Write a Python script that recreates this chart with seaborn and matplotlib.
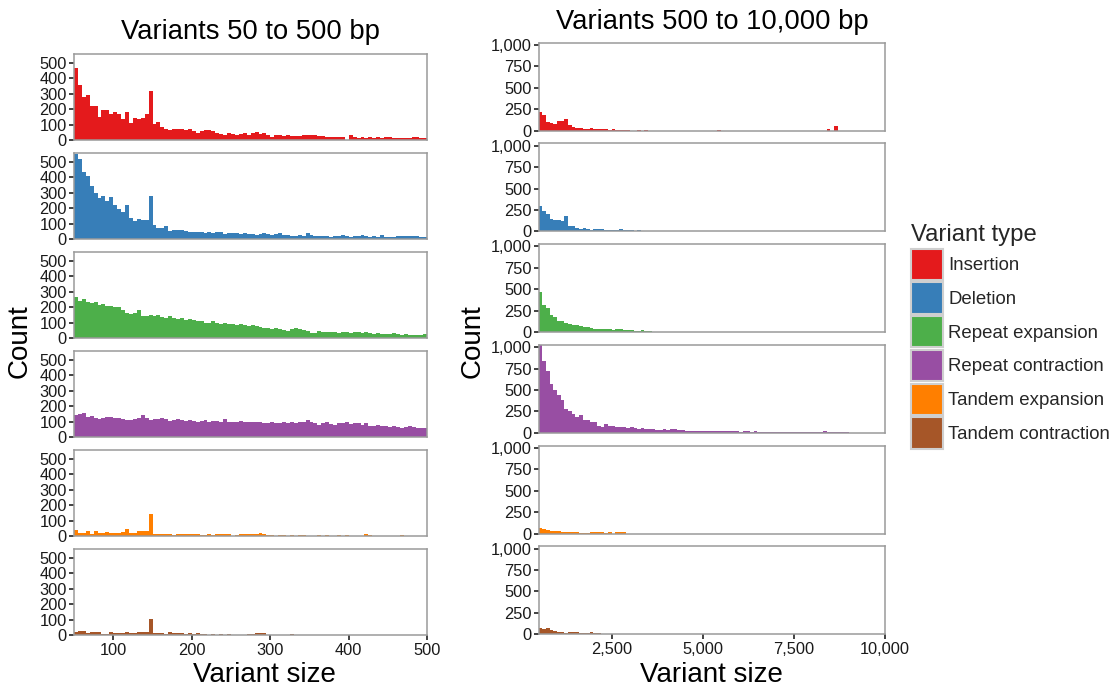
import numpy as np
import pandas as pd
import matplotlib
matplotlib.use("Agg")
import matplotlib.pyplot as plt
import seaborn as sns
from matplotlib.patches import Patch
from matplotlib.ticker import FuncFormatter

# ---------------- data ----------------
variant_types = ["Insertion", "Deletion", "Repeat expansion",
                 "Repeat contraction", "Tandem expansion", "Tandem contraction"]
type_colors = ["#E41A1C", "#377EB8", "#4DAF4A", "#984EA3", "#FF7F00", "#A65628"]

# small variants: 5 bp bins starting at 50 bp
small_bin_start, small_bin_width = 50, 5
# large variants: 100 bp bins starting at 500 bp
large_bin_start, large_bin_width = 500, 100

small_insertion = [
    468, 355, 281, 294, 223, 219, 149, 196, 194, 170,
    181, 166, 138, 181, 113, 145, 134, 140, 166, 319,
    102, 117, 81, 68, 64, 68, 70, 68, 65, 72,
    55, 45, 55, 65, 62, 58, 45, 40, 32, 45,
    42, 35, 38, 45, 35, 45, 52, 42, 48, 30,
    22, 30, 35, 28, 30, 27, 25, 28, 30, 30,
    32, 30, 25, 28, 18, 22, 18, 20, 17, 0,
    32, 22, 15, 18, 14, 20, 15, 18, 12, 20,
    18, 15, 12, 14, 15, 15, 20, 22, 15, 12]
small_deletion = [
    551, 515, 434, 408, 340, 298, 266, 281, 243, 270,
    217, 191, 174, 221, 136, 115, 128, 121, 125, 277,
    89, 74, 74, 85, 53, 60, 57, 55, 50, 45,
    48, 48, 45, 42, 45, 42, 45, 48, 35, 38,
    40, 36, 32, 40, 35, 32, 28, 30, 42, 35,
    25, 30, 42, 28, 25, 22, 20, 25, 20, 42,
    25, 22, 18, 20, 18, 15, 20, 22, 25, 20,
    15, 18, 22, 25, 20, 12, 18, 15, 28, 15,
    12, 15, 18, 20, 18, 22, 18, 20, 15, 10]
small_repeat_exp = [
    268, 240, 252, 232, 228, 235, 215, 220, 205, 210,
    198, 200, 178, 160, 155, 162, 182, 145, 140, 150,
    140, 148, 135, 132, 140, 128, 125, 128, 118, 120,
    115, 110, 112, 100, 98, 110, 95, 92, 98, 90,
    92, 85, 88, 82, 80, 85, 75, 72, 65, 62,
    60, 62, 55, 52, 48, 55, 62, 58, 50, 45,
    30, 35, 45, 38, 40, 36, 40, 35, 38, 42,
    35, 38, 40, 32, 42, 30, 28, 30, 25, 28,
    26, 30, 25, 22, 24, 20, 22, 20, 18, 25]
small_repeat_con = [
    142, 147, 153, 132, 138, 126, 117, 126, 132, 132,
    126, 121, 117, 112, 110, 118, 122, 142, 120, 111,
    115, 118, 126, 115, 104, 110, 115, 108, 104, 110,
    106, 100, 104, 108, 100, 102, 106, 100, 115, 98,
    100, 96, 102, 98, 100, 96, 94, 100, 92, 90,
    98, 92, 88, 95, 90, 94, 92, 98, 96, 113,
    95, 90, 80, 92, 100, 85, 75, 90, 88, 94,
    85, 90, 88, 80, 92, 70, 72, 75, 74, 68,
    65, 70, 62, 60, 65, 68, 62, 60, 58, 56]
small_tandem_exp = [
    40, 19, 20, 34, 15, 30, 20, 22, 25, 20,
    20, 22, 28, 45, 20, 22, 30, 34, 34, 143,
    13, 12, 15, 10, 10, 8, 12, 12, 12, 12,
    12, 12, 8, 5, 15, 6, 10, 12, 12, 10,
    3, 8, 10, 10, 10, 12, 15, 22, 14, 5,
    4, 3, 6, 6, 3, 5, 2, 6, 6, 2,
    3, 2, 5, 2, 5, 2, 3, 5, 2, 4,
    2, 2, 2, 2, 10, 5, 2, 2, 1, 2,
    2, 1, 2, 6, 2, 1, 2, 2, 1, 1]
small_tandem_con = [
    19, 28, 28, 13, 21, 21, 17, 8, 8, 17,
    14, 14, 14, 21, 10, 12, 18, 21, 21, 104,
    13, 13, 10, 8, 19, 10, 10, 12, 5, 13,
    5, 13, 8, 6, 3, 6, 3, 6, 2, 4,
    3, 2, 3, 2, 5, 4, 13, 12, 10, 3,
    2, 1, 2, 1, 2, 5, 1, 1, 2, 1,
    1, 2, 1, 1, 1, 1, 2, 1, 1, 1,
    0, 1, 0, 1, 2, 0, 1, 0, 1, 0,
    1, 0, 0, 1, 0, 0, 1, 0, 0, 0]

large_insertion = [
    220, 185, 96, 85, 77, 115, 108, 139, 62, 38,
    31, 31, 23, 15, 31, 23, 15, 15, 15, 10,
    15, 8, 5, 6, 6, 0, 0, 6, 0, 6,
    0, 0, 0, 0, 0, 0, 0, 0, 0, 0,
    0, 0, 0, 0, 0, 0, 0, 0, 0, 8,
    0, 0, 0, 0, 0, 0, 0, 0, 0, 0,
    0, 0, 0, 0, 0, 0, 0, 0, 0, 0,
    0, 0, 0, 0, 0, 0, 0, 0, 0, 20,
    0, 60]
large_deletion = [
    296, 233, 206, 140, 128, 136, 117, 179, 62, 58,
    43, 23, 39, 23, 16, 31, 31, 23, 16, 16,
    16, 20, 27, 16, 12, 12, 8, 12, 8, 10]
large_repeat_exp = [
    463, 317, 286, 197, 174, 131, 131, 104, 97, 85,
    85, 77, 58, 58, 50, 42, 42, 31, 31, 42,
    27, 31, 31, 23, 23, 23, 15, 15, 27, 8,
    8, 5, 5]
large_repeat_con = [
    1030, 833, 717, 570, 504, 438, 388, 283, 252, 221,
    182, 205, 155, 155, 128, 128, 78, 66, 105, 85,
    78, 66, 66, 62, 58, 62, 55, 50, 52, 47,
    45, 39, 35, 31, 43, 35, 39, 40, 27, 27,
    20, 18, 16, 23, 23, 23, 23, 25, 22, 20,
    25, 18, 20, 22, 18, 15, 20, 18, 15, 16,
    15, 12, 14, 15, 12, 10, 12, 14, 10, 12,
    10, 12, 10, 8, 10, 12, 8, 10, 25, 12,
    8, 10, 6, 8, 4]
large_tandem_exp = [
    66, 47, 43, 35, 27, 27, 12, 12, 12, 12,
    19, 8, 8, 3, 12, 12, 19, 12, 5, 12,
    0, 12, 12, 12]
large_tandem_con = [
    70, 55, 67, 51, 43, 23, 23, 16, 31, 23,
    31, 16, 12, 12, 31, 12, 12, 5]

small_counts = [small_insertion, small_deletion, small_repeat_exp,
                small_repeat_con, small_tandem_exp, small_tandem_con]
large_counts = [large_insertion, large_deletion, large_repeat_exp,
                large_repeat_con, large_tandem_exp, large_tandem_con]

small_xticks = [100, 200, 300, 400, 500]
small_yticks = [0, 100, 200, 300, 400, 500]
large_xticks = [2500, 5000, 7500, 10000]
large_yticks = [0, 250, 500, 750, 1000]


def to_frame(counts_list, start, width):
    rows = []
    for vt, counts in zip(variant_types, counts_list):
        for i, c in enumerate(counts):
            rows.append((vt, start + width * (i + 0.5), c))
    return pd.DataFrame(rows, columns=["type", "size", "count"])


small_df = to_frame(small_counts, small_bin_start, small_bin_width)
large_df = to_frame(large_counts, large_bin_start, large_bin_width)

# ---------------- style ----------------
sns.set_theme(style="white")
plt.rcParams["font.family"] = ["Liberation Sans", "DejaVu Sans"]

W, H = 1118, 692
fig = plt.figure(figsize=(W / 100, H / 100), dpi=100)


def px_axes(x0, x1, top, bottom):
    return fig.add_axes([x0 / W, 1 - bottom / H, (x1 - x0) / W, (bottom - top) / H])


left_tops = [54, 153, 252, 351, 450, 549]
right_tops = [42.7, 143.4, 244.1, 344.8, 445.5, 546.2]
left_h, right_h = 86, 88

text_color = "#1a1a1a"
spine_color = "#9a9a9a"
comma = FuncFormatter(lambda v, p: f"{int(v):,}")
tick_size = 11.8

for col, (df, tops, ph, x0, x1, xlim, ylim, xticks, yticks, bw) in enumerate([
        (small_df, left_tops, left_h, 74, 427.3, (50, 500), (0, 556),
         small_xticks, small_yticks, small_bin_width),
        (large_df, right_tops, right_h, 538.8, 885, (500, 10000), (0, 1027),
         large_xticks, large_yticks, large_bin_width)]):
    for r, (vt, colr) in enumerate(zip(variant_types, type_colors)):
        ax = px_axes(x0, x1, tops[r], tops[r] + ph)
        sub = df[df["type"] == vt]
        sns.histplot(data=sub, x="size", weights="count",
                     binwidth=bw, binrange=xlim, color=colr, alpha=1,
                     element="bars", linewidth=0, edgecolor=colr, ax=ax)
        ax.set_xlim(*xlim)
        ax.set_ylim(*ylim)
        ax.set_xlabel("")
        ax.set_ylabel("")
        ax.set_yticks(yticks)
        ax.yaxis.set_major_formatter(comma)
        for s in ax.spines.values():
            s.set_color(spine_color)
            s.set_linewidth(1.1)
        ax.tick_params(axis="y", direction="out", length=3.8, width=1.3,
                       color="#333333", labelsize=tick_size, labelcolor=text_color,
                       pad=1.5, left=True)
        if r == 5:
            ax.set_xticks(xticks)
            ax.xaxis.set_major_formatter(comma)
            ax.tick_params(axis="x", direction="out", length=3.8, width=1.3,
                           color="#333333", labelsize=tick_size, labelcolor=text_color,
                           pad=2, bottom=True)
        else:
            ax.set_xticks([])

# titles
fig.text(250.6 / W, 1 - 39 / H, "Variants 50 to 500 bp", ha="center",
         va="baseline", fontsize=19.7, color="black")
fig.text(711.9 / W, 1 - 29 / H, "Variants 500 to 10,000 bp", ha="center",
         va="baseline", fontsize=19.7, color="black")

# axis labels
lab_size = 20.0
fig.text(264 / W, 1 - 675 / H, "Variant size", ha="center", va="center",
         fontsize=lab_size, color="black")
fig.text(711 / W, 1 - 675 / H, "Variant size", ha="center", va="center",
         fontsize=lab_size, color="black")
fig.text(20 / W, 1 - 341 / H, "Count", ha="center", va="center",
         rotation=90, fontsize=lab_size, color="black")
fig.text(473 / W, 1 - 341 / H, "Count", ha="center", va="center",
         rotation=90, fontsize=lab_size, color="black")

# legend
handles = [Patch(facecolor=c, edgecolor="#cfcfcf", linewidth=1.5, label=t)
           for t, c in zip(variant_types, type_colors)]
leg = fig.legend(handles=handles, title="Variant type", loc="upper left",
                 bbox_to_anchor=(911 / W, 1 - 224 / H), frameon=False,
                 fontsize=13.4, title_fontsize=17.2, handlelength=1.72,
                 handleheight=2.19, labelspacing=0.145, handletextpad=0.27,
                 borderaxespad=0, borderpad=0)
leg._legend_box.align = "left"

fig.savefig("out.png", dpi=100)
